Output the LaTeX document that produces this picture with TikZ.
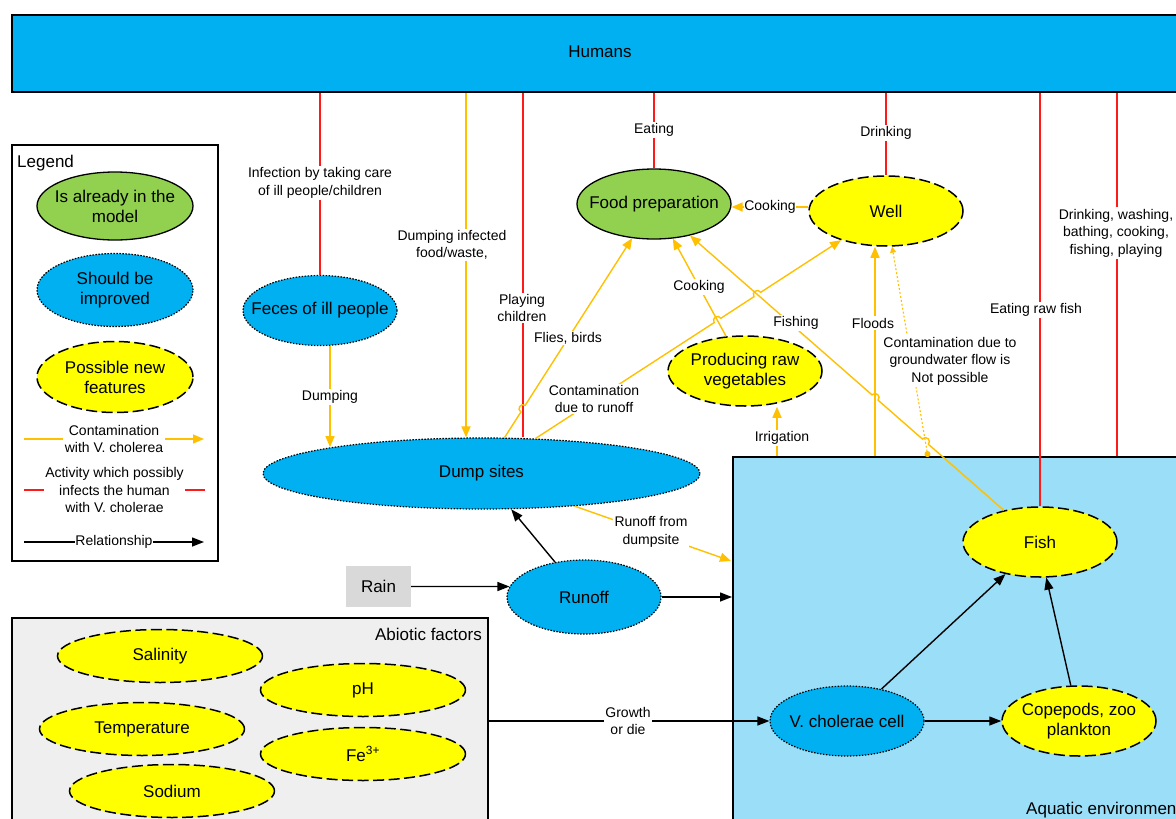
\documentclass[tikz,border=0pt]{standalone}
\usepackage{fontspec}
\setmainfont{Liberation Sans}
\usetikzlibrary{shapes.geometric,arrows.meta,calc}

\definecolor{humblue}{HTML}{00B0F0}
\definecolor{modgreen}{HTML}{92D050}
\definecolor{newyellow}{HTML}{FFFF00}
\definecolor{contorange}{HTML}{FFC000}
\definecolor{actred}{HTML}{FF1A1A}
\definecolor{aquablue}{HTML}{9BDEF7}
\definecolor{abiogray}{HTML}{EFEFEF}
\definecolor{raingray}{HTML}{D9D9D9}

\begin{document}
\begin{tikzpicture}[x=1pt,y=-1pt,
  font=\fontsize{17}{20}\selectfont,
  ell/.style={ellipse, inner sep=0pt, minimum width=154pt, minimum height=70pt, draw=black},
  known/.style={ell, fill=modgreen, line width=1.3pt},
  improve/.style={ell, fill=humblue, line width=1.2pt, dash pattern=on 1.5pt off 1.5pt},
  newfeat/.style={ell, fill=newyellow, line width=1.5pt, dash pattern=on 11pt off 4.5pt},
  abio/.style={newfeat, minimum width=205pt, minimum height=53pt},
  txt/.style={label={[align=center, inner sep=0pt]center:{#1}}},
  lbl/.style={fill=white, inner sep=1.5pt, align=center, font=\fontsize{14}{17.5}\selectfont},
  frame/.style={draw=black, inner sep=0pt},
  redline/.style={draw=actred, line width=1.4pt},
  cont/.style={draw=contorange, line width=1.4pt, -{Triangle[length=11pt,width=9pt]}},
  rel/.style={draw=black, line width=1.4pt, -{Triangle[length=12pt,width=9pt]}},
  gwline/.style={draw=contorange, line width=1.1pt, dash pattern=on 2pt off 2pt,
    {Circle[length=6pt]}-{Triangle[length=6pt,width=6pt]}},
]
\useasboundingbox (0,0) rectangle (1176,819);
\clip (0,0) rectangle (1176,819);

% ---------- frames ----------
\node[frame, fill=humblue, line width=2pt, minimum width=1185pt, minimum height=77pt] (humans) at (604.5,53.5) {};
\node (humanstext) at (600,52) {Humans};
\node[frame, line width=1.3pt, minimum width=206pt, minimum height=416pt] (legend) at (115,353) {};
\node[anchor=west, inner sep=0pt] (legtitle) at (17,163) {Legend};
\node[frame, fill=abiogray, line width=1.3pt, minimum width=476pt, minimum height=215pt] (abiotic) at (250,725.5) {};
\node[anchor=east, inner sep=0pt] (abiotitle) at (482,634) {Abiotic factors};
\node[frame, fill=aquablue, line width=2pt, minimum width=470pt, minimum height=380pt] (aquatic) at (968,647) {};
\node[anchor=base west, inner sep=0pt] (aqtitle) at (1026,814) {Aquatic environment};

% ---------- legend ----------
\node[known, minimum width=156pt, minimum height=68pt, txt={Is already in the\\model}] (lgknown) at (115,206) {};
\node[improve, minimum width=156pt, minimum height=73pt, txt={Should be\\improved}] (lgimprove) at (115,290) {};
\node[newfeat, minimum width=156pt, minimum height=71pt, txt={Possible new\\features}] (lgnew) at (115,377) {};
\coordinate (lo1) at (24,439);  \coordinate (lo2) at (204,439);
\coordinate (lr1) at (24,490);  \coordinate (lr2) at (205,490);
\coordinate (lb1) at (24,542);  \coordinate (lb2) at (204,542);
\draw[cont] (lo1) -- (lo2) node[lbl, midway] (lgcont) {Contamination\\with V. cholerea};
\draw[redline] (lr1) -- (lr2) node[lbl, midway] (lgact) {Activity which possibly\\infects the human\\with V. cholerae};
\draw[rel] (lb1) -- (lb2) node[lbl, midway, inner sep=0.5pt] (lgrel) {Relationship};

% ---------- nodes ----------
\node[improve, txt={Feces of ill people}] (feces) at (320,310.5) {};
\node[improve, minimum width=437pt, minimum height=71pt, txt={Dump sites}] (dump) at (481.5,473.5) {};
\node[known, txt={Food preparation}] (food) at (654,204) {};
\node[newfeat, txt={Well}] (well) at (886,211) {};
\node[newfeat, txt={Producing raw\\vegetables}] (veg) at (745,371) {};
\node[improve, minimum height=74pt, txt={Runoff}] (runoff) at (584,597) {};
\node[fill=raingray, minimum width=65pt, minimum height=41pt, inner sep=0pt] (rain) at (378.5,586.5) {Rain};
\node[newfeat, txt={Fish}] (fish) at (1040,542) {};
\node[newfeat, txt={Copepods, zoo\\plankton}] (cope) at (1079,721) {};
\node[improve, txt={V. cholerae cell}] (vcell) at (847,721) {};

\node[abio, txt={Salinity}] (salinity) at (160,656) {};
\node[abio, txt={pH}] (ph) at (363,690) {};
\node[abio, txt={Temperature}] (temp) at (142,729) {};
\node[abio, txt={Fe\textsuperscript{3+}}] (fe) at (363,754) {};
\node[abio, txt={Sodium}] (sodium) at (172,791) {};

% ---------- helper coordinates ----------
\coordinate (pc) at (523,300);
\coordinate (di) at (466,300);
\coordinate (r6) at (1117,300);
\coordinate (flb) at (875,456);
\coordinate (flt) at (flb |- well.south);
\coordinate (ir) at (777,456);
\coordinate (gw) at (928,457);
\coordinate (rdend) at (731,561);
\coordinate (cw) at (0,207);
\coordinate (pct) at (humans.south -| pc);
\coordinate (pcb) at (pc |- dump.north);

% ---------- activities (red) ----------
\draw[redline] (humans.south -| feces.north) -- (feces.north);
\draw[redline] (pct) -- (pcb);
\draw[redline] (humans.south -| food.north) -- (food.north);
\draw[redline] (humans.south -| well.north) -- (well.north);
\draw[redline] (humans.south -| fish.north) -- (fish.north);
\draw[redline] (humans.south -| r6) -- (r6 |- aquatic.north);

% ---------- line crossings ----------
\coordinate (h1) at (intersection of dump--food and pct--pcb);
\coordinate (h2) at (intersection of dump--well and veg--food);
\coordinate (h3) at (intersection of dump--well and fish--food);
\coordinate (h4) at (intersection of fish--food and flb--flt);
\coordinate (h5) at (intersection of fish--food and gw--well);
\coordinate (h1a) at ($(h1)!4pt!(dump)$);  \coordinate (h1b) at ($(h1)!4pt!(food)$);
\coordinate (h2a) at ($(h2)!4pt!(dump)$);  \coordinate (h2b) at ($(h2)!4pt!(well)$);
\coordinate (h3a) at ($(h3)!4pt!(dump)$);  \coordinate (h3b) at ($(h3)!4pt!(well)$);
\coordinate (h5a) at ($(h5)!4pt!(fish)$);  \coordinate (h5b) at ($(h5)!4pt!(food)$);
\coordinate (h4a) at ($(h4)!4pt!(fish)$);  \coordinate (h4b) at ($(h4)!4pt!(food)$);

% ---------- contamination (orange) ----------
\draw[cont] (humans.south -| di) -- (di |- dump.north);
\draw[cont] ([xshift=10pt]feces.south) -- ([xshift=10pt]feces.south |- dump.170);
\draw[cont] (dump) -- (h1a)
  .. controls ($(h1a)!5.3pt!90:(h1b)$) and ($(h1b)!5.3pt!-90:(h1a)$) .. (h1b) -- (food);
\draw[cont] (dump) -- (h2a)
  .. controls ($(h2a)!5.3pt!90:(h2b)$) and ($(h2b)!5.3pt!-90:(h2a)$) .. (h2b) -- (h3a)
  .. controls ($(h3a)!5.3pt!90:(h3b)$) and ($(h3b)!5.3pt!-90:(h3a)$) .. (h3b) -- (well);
\draw[cont] (veg) -- (food);
\draw[cont] (fish) -- (h5a)
  .. controls ($(h5a)!5.3pt!-90:(h5b)$) and ($(h5b)!5.3pt!90:(h5a)$) .. (h5b) -- (h4a)
  .. controls ($(h4a)!5.3pt!-90:(h4b)$) and ($(h4b)!5.3pt!90:(h4a)$) .. (h4b) -- (food);
\draw[cont] (cw -| well.west) -- (cw -| food.east);
\draw[cont] (flb) -- (flt);
\draw[cont] (ir) -- (ir |- veg.south);
\draw[cont] (dump) -- (rdend);
\draw[gwline] (gw) -- (well);

% ---------- relationships (black) ----------
\draw[rel] (rain.east) -- (runoff.172);
\draw[rel] (runoff) -- (dump);
\draw[rel] (runoff.east) -- (runoff.east -| aquatic.west);
\draw[rel] (abiotic.east |- vcell) -- (vcell);
\draw[rel] (vcell) -- (fish);
\draw[rel] (vcell) -- (cope);
\draw[rel] (cope.103) -- (fish.-80);

% ---------- connector labels ----------
\node[lbl] (linfect) at (320,183) {Infection by taking care\\of ill people/children};
\node[lbl] (ldumpinf) at (452,245) {Dumping infected\\food/waste,};
\node[lbl] (lplay) at (522,308) {Playing\\children};
\node[lbl] (leat) at (654,130) {Eating};
\node[lbl] (ldrink) at (886,133) {Drinking};
\node[lbl] (lrawfish) at (1036,310) {Eating raw fish};
\node[lbl] (lmulti) at (1116,233) {Drinking, washing,\\bathing, cooking,\\fishing, playing};
\node[lbl] (ldumping) at (330,397) {Dumping};
\node[lbl] (lflies) at (568,338) {Flies, birds};
\node[lbl] (lconrun) at (594,399) {Contamination\\due to runoff};
\node[lbl] (lcook1) at (699,287) {Cooking};
\node[lbl, inner sep=0.5pt] (lcook2) at (770,207) {Cooking};
\node[lbl] (lfishing) at (796,323) {Fishing};
\node[lbl] (lfloods) at (873,323) {Floods};
\node[lbl] (lirr) at (782,438) {Irrigation};
\node[lbl] (lgw) at (950,361) {Contamination due to\\groundwater flow is\\Not possible};
\node[lbl] (lrfd) at (651,532) {Runoff from\\dumpsite};
\node[lbl] (lgrow) at (628,721) {Growth\\or die};
\end{tikzpicture}
\end{document}
